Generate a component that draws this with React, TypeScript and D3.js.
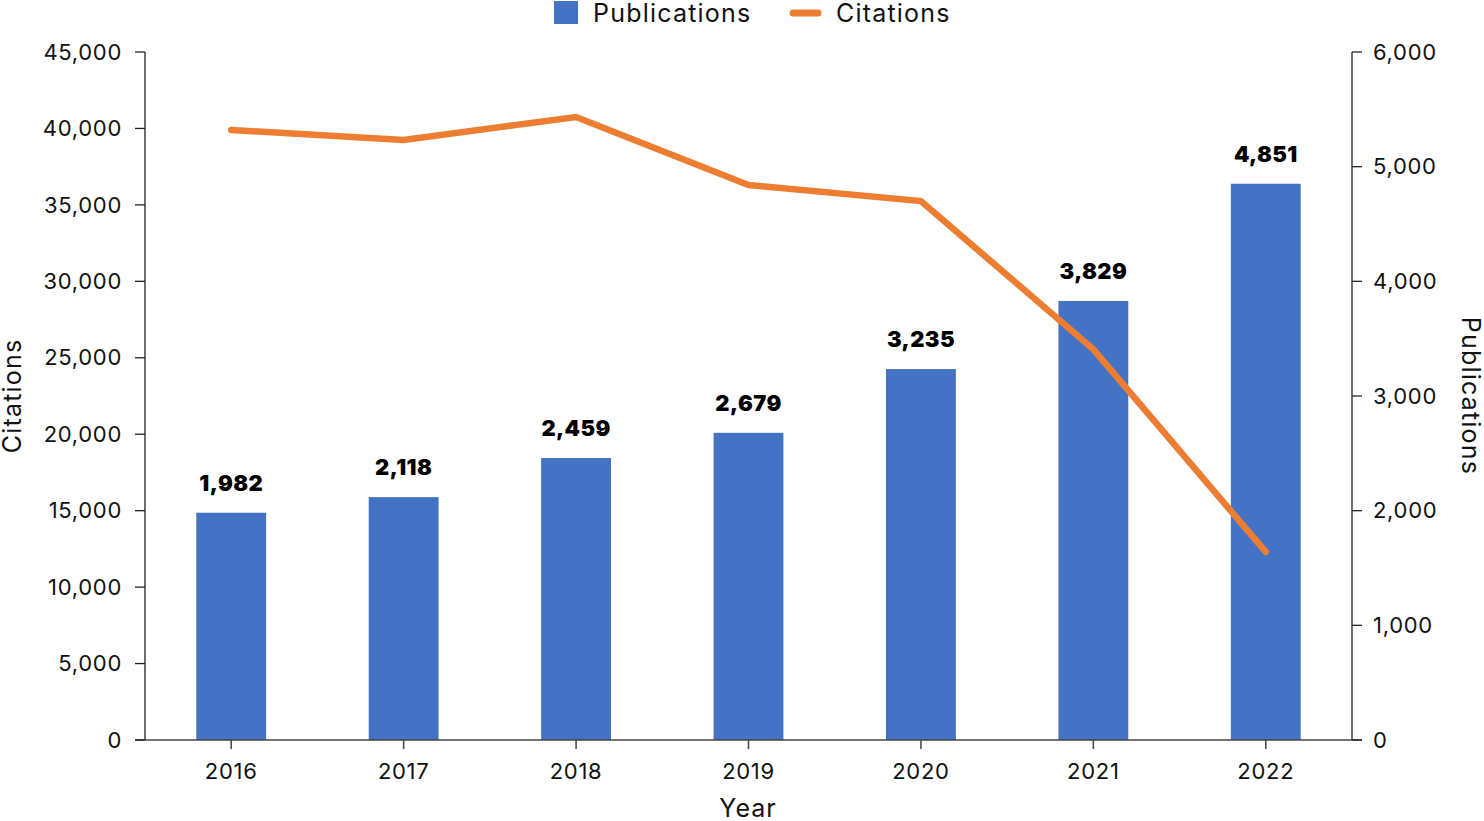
import React from "react";
import * as d3 from "d3";

const years = ["2016", "2017", "2018", "2019", "2020", "2021", "2022"];
const publications = [1982, 2118, 2459, 2679, 3235, 3829, 4851];
const citations = [39900, 39250, 40750, 36300, 35250, 25550, 12300];
const leftTicks = [0, 5000, 10000, 15000, 20000, 25000, 30000, 35000, 40000, 45000];
const rightTicks = [0, 1000, 2000, 3000, 4000, 5000, 6000];

const W = 1484;
const H = 821;
const M = { left: 145, right: 1352, top: 52, bottom: 740 };
const BAR = "#4472C4";
const LINE = "#ED7D31";
const FONT = "Inter, 'Noto Sans', sans-serif";
const fmt = d3.format(",");

export default function App() {
  const x = d3.scaleBand<string>().domain(years).range([M.left, M.right]).padding(0);
  const yL = d3.scaleLinear().domain([0, 45000]).range([M.bottom, M.top]);
  const yR = d3.scaleLinear().domain([0, 6000]).range([M.bottom, M.top]);
  const bw = x.bandwidth() * 0.405;
  const cx = (y: string) => (x(y) as number) + x.bandwidth() / 2;

  const line = d3
    .line<number>()
    .x((_, i) => cx(years[i]))
    .y((d) => yL(d));

  return (
    <svg
      width={W}
      height={H}
      style={{ position: "absolute", left: 0, top: 0, background: "#fff" }}
      fontFamily={FONT}
    >
      {publications.map((v, i) => (
        <rect
          key={years[i]}
          x={cx(years[i]) - bw / 2}
          y={yR(v)}
          width={bw}
          height={M.bottom - yR(v)}
          fill={BAR}
        />
      ))}
      {publications.map((v, i) => (
        <text
          key={"l" + years[i]}
          x={cx(years[i])}
          y={yR(v) - 22}
          textAnchor="middle"
          fontSize={22}
          fontWeight={900}
          letterSpacing={0.4}
          fill="#000"
        >
          {fmt(v)}
        </text>
      ))}
      <path
        d={line(citations) || ""}
        fill="none"
        stroke={LINE}
        strokeWidth={6.5}
        strokeLinecap="round"
        strokeLinejoin="miter"
      />
      <line x1={M.left} x2={M.left} y1={M.top} y2={M.bottom} stroke="#222" strokeWidth={1.3} />
      <line x1={M.right} x2={M.right} y1={M.top} y2={M.bottom} stroke="#222" strokeWidth={1.3} />
      <line x1={135} x2={1362} y1={M.bottom} y2={M.bottom} stroke="#444" strokeWidth={1.5} />
      {leftTicks.map((t) => (
        <g key={"lt" + t}>
          <line x1={135} x2={M.left} y1={yL(t)} y2={yL(t)} stroke="#222" strokeWidth={1.3} />
          <text x={122} y={yL(t)} dy="0.35em" textAnchor="end" fontSize={22} letterSpacing={0.7} fill="#111">
            {fmt(t)}
          </text>
        </g>
      ))}
      {rightTicks.map((t) => (
        <g key={"rt" + t}>
          <line x1={M.right} x2={1362} y1={yR(t)} y2={yR(t)} stroke="#222" strokeWidth={1.3} />
          <text x={1373} y={yR(t)} dy="0.35em" textAnchor="start" fontSize={22} letterSpacing={0.7} fill="#111">
            {fmt(t)}
          </text>
        </g>
      ))}
      {years.map((y) => (
        <g key={"xt" + y}>
          <line x1={cx(y)} x2={cx(y)} y1={M.bottom} y2={M.bottom + 9} stroke="#444" strokeWidth={1.5} />
          <text x={cx(y)} y={779} textAnchor="middle" fontSize={22} letterSpacing={0.7} fill="#111">
            {y}
          </text>
        </g>
      ))}
      <text x={748} y={817} textAnchor="middle" fontSize={25} letterSpacing={1} fill="#111">
        Year
      </text>
      <text
        transform={`translate(21, ${(M.top + M.bottom) / 2}) rotate(-90)`}
        textAnchor="middle"
        fontSize={25}
        letterSpacing={1.2}
        fill="#111"
      >
        Citations
      </text>
      <text
        transform={`translate(1462, ${(M.top + M.bottom) / 2}) rotate(90)`}
        textAnchor="middle"
        fontSize={25}
        letterSpacing={1.2}
        fill="#111"
      >
        Publications
      </text>
      <rect x={554} y={1} width={24} height={23} fill={BAR} />
      <text x={593} y={22} fontSize={25} letterSpacing={1.2} fill="#111">
        Publications
      </text>
      <line x1={793} x2={818} y1={13} y2={13} stroke={LINE} strokeWidth={7} strokeLinecap="round" />
      <text x={836} y={22} fontSize={25} letterSpacing={1.2} fill="#111">
        Citations
      </text>
    </svg>
  );
}
